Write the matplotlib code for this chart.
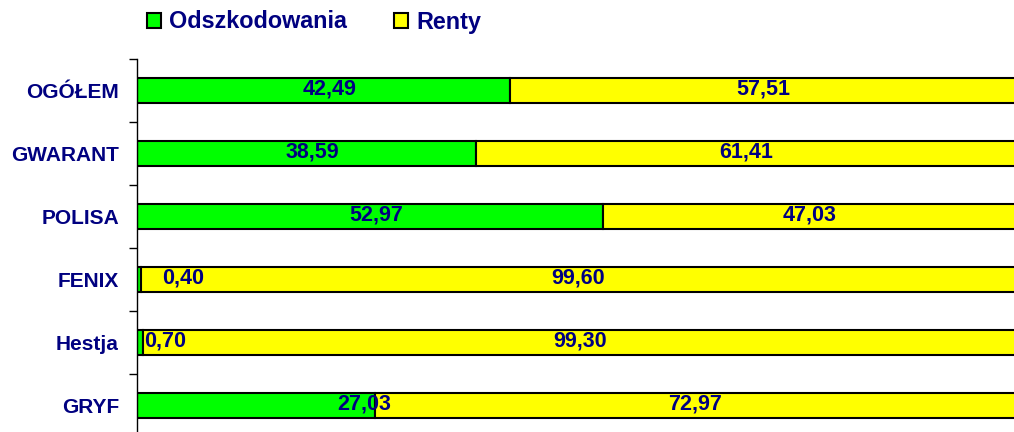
import matplotlib.pyplot as plt
from matplotlib.patches import Patch

categories = ['OGÓŁEM', 'GWARANT', 'POLISA', 'FENIX', 'Hestja', 'GRYF']
odszkodowania = [42.49, 38.59, 52.97, 0.40, 0.70, 27.03]
renty = [57.51, 61.41, 47.03, 99.60, 99.30, 72.97]

navy = '#000080'
green = '#00FF00'
yellow = '#FFFF00'

plt.rcParams['font.family'] = ['Liberation Sans', 'DejaVu Sans']

fig = plt.figure(figsize=(10.14, 4.32), dpi=100)
ax = fig.add_axes([137/1014, -5/432, 879/1014, 378/432])

y = list(range(len(categories)))
ax.barh(y, odszkodowania, height=0.41, color=green, edgecolor='black', linewidth=1.5)
ax.barh(y, renty, left=odszkodowania, height=0.41, color=yellow, edgecolor='black', linewidth=1.5)

# label centres that Excel had moved by hand (small segments)
green_pos = {3: 5.3, 4: 3.2, 5: 25.8}

def fmt(v):
    return f'{v:.2f}'.replace('.', ',')

for i in y:
    gx = green_pos.get(i, odszkodowania[i] / 2 + 0.7)
    rx = odszkodowania[i] + renty[i] / 2
    for xx, v in ((gx, odszkodowania[i]), (rx, renty[i])):
        ax.annotate(fmt(v), (xx, i), xytext=(0, 1.2), textcoords='offset points',
                    ha='center', va='center', color=navy, fontsize=15.5, fontweight='bold')

ax.set_xlim(0, 100)
ax.set_ylim(len(categories) - 0.5, -0.5)
ax.set_yticks(y)
ax.set_yticklabels(categories, color=navy, fontsize=15, fontweight='bold')
ax.set_yticks([i - 0.5 for i in range(len(categories) + 1)], minor=True)
ax.tick_params(axis='y', which='major', length=0, pad=13)
ax.tick_params(axis='y', which='minor', length=6, width=1, direction='out')
ax.set_xticks([])
for s in ['top', 'right', 'bottom']:
    ax.spines[s].set_visible(False)
ax.spines['left'].set_linewidth(1)

handles = [Patch(facecolor=green, edgecolor='black', linewidth=1.5, label='Odszkodowania'),
           Patch(facecolor=yellow, edgecolor='black', linewidth=1.5, label='Renty')]
leg = fig.legend(handles=handles, loc='center left', bbox_to_anchor=(126/1014, 1 - 22/432),
                 ncol=2, frameon=False, handlelength=0.6, handleheight=0.6,
                 handletextpad=0.35, columnspacing=2.0,
                 prop={'weight': 'bold', 'size': 16.8})
for t in leg.get_texts():
    t.set_color(navy)

fig.savefig('out.png', dpi=100)
